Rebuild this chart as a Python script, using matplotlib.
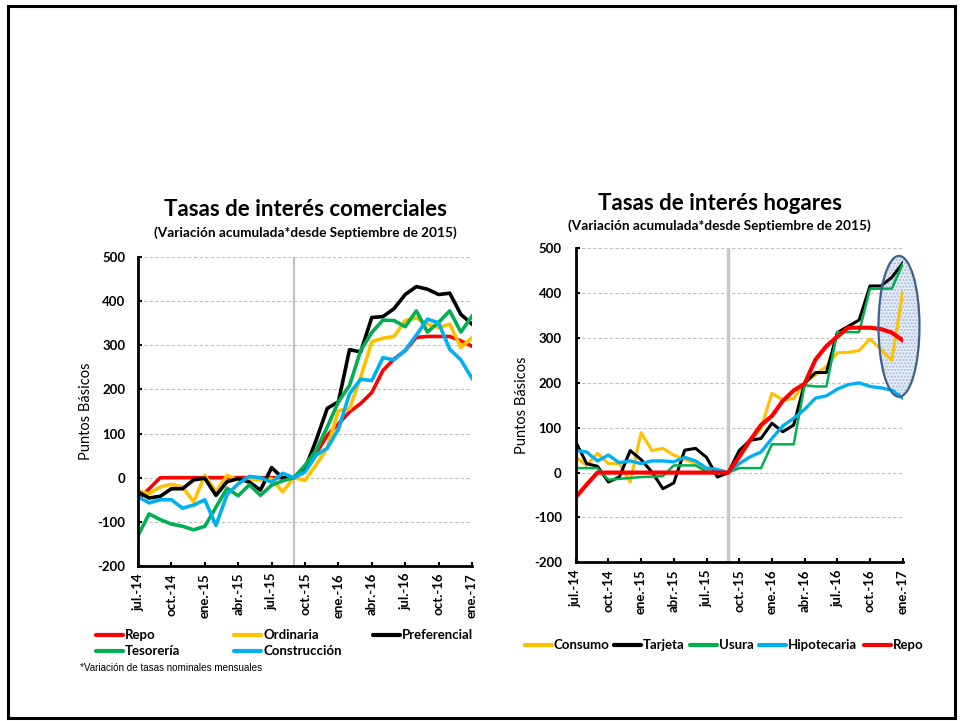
import matplotlib
matplotlib.use('Agg')
import matplotlib.pyplot as plt
from matplotlib.patches import Ellipse, Rectangle
from matplotlib.lines import Line2D

plt.rcParams['font.family'] = ['Lato', 'DejaVu Sans']

# meses jul-14 ... ene-17 (31 observaciones mensuales), etiqueta cada trimestre
meses = ['jul.-14', 'oct.-14', 'ene.-15', 'abr.-15', 'jul.-15', 'oct.-15',
         'ene.-16', 'abr.-16', 'jul.-16', 'oct.-16', 'ene.-17']
x = list(range(31))

# --- comerciales (pb) ---
repo_com = [-50, -25, 0, 0, 0, 0, 0, 0, 0, 0, 0, 0, 0, 0, 0,
            20, 55, 96, 122, 149, 168, 193, 243, 269, 288, 318, 320, 320, 320, 310, 298]
ordinaria = [-30, -36, -21, -15, -21, -55, 5, -32, 5, -5, -4, -5, -2, -32, 0,
             -6, 29, 67, 152, 156, 228, 308, 316, 320, 356, 362, 348, 340, 348, 295, 317]
preferencial = [-32, -46, -42, -25, -25, -5, -1, -40, -9, -2, -10, -28, 23, -1, 0,
                20, 85, 157, 172, 290, 285, 363, 365, 383, 415, 433, 427, 415, 418, 370, 348]
tesoreria = [-131, -82, -95, -105, -110, -118, -110, -67, -24, -41, -16, -40, -17, -7, 0,
             28, 62, 115, 172, 209, 288, 329, 357, 356, 342, 378, 330, 352, 378, 330, 366]
construccion = [-43, -57, -50, -50, -69, -62, -50, -108, -38, -14, 3, 0, -10, 10, 0,
                13, 51, 67, 110, 190, 223, 220, 272, 267, 289, 323, 359, 351, 291, 267, 225]

# --- hogares (pb) ---
consumo = [35, 16, 43, 20, 20, -21, 89, 49, 54, 39, 29, 20, 9, 5, 0,
           35, 70, 98, 177, 162, 165, 200, 218, 237, 267, 268, 272, 298, 275, 250, 402]
tarjeta = [69, 20, 14, -21, -10, 49, 29, 1, -36, -23, 50, 54, 34, -10, 0,
           49, 72, 76, 110, 91, 106, 199, 223, 223, 312, 326, 340, 416, 416, 435, 467]
usura = [10, 10, 10, -16, -14, -12, -10, -9, -8, 16, 16, 16, 2, 0, 0,
         10, 10, 10, 63, 63, 63, 195, 192, 192, 313, 313, 313, 410, 410, 410, 465]
hipotecaria = [49, 46, 26, 39, 22, 26, 20, 26, 26, 24, 34, 26, 10, 7, 0,
               20, 35, 46, 76, 104, 121, 141, 166, 171, 186, 196, 200, 192, 189, 184, 166]
repo_hog = [-55, -27, 0, 0, 0, 0, 0, 0, 0, 0, 0, 0, 0, 0, 0,
            35, 72, 106, 126, 160, 183, 198, 252, 282, 303, 323, 323, 323, 320, 312, 295]

ROJO, AMARILLO, NEGRO, VERDE, AZUL = '#FF0000', '#FFC000', '#000000', '#00B050', '#00B0F0'
W, H = 960, 721
FS = 9.5


def fx(px):
    return px / W


def fy(py):
    return 1 - py / H


def formato(ax, pad_y):
    ax.set_xlim(0, 30)
    ax.set_ylim(-200, 500)
    ax.set_xticks(range(0, 31, 3))
    ax.set_xticklabels(meses, rotation=90, fontweight='bold', fontsize=FS)
    ax.set_yticks(range(-200, 501, 100))
    ax.set_yticklabels([str(v) for v in range(-200, 501, 100)], fontweight='bold', fontsize=FS)
    for s in ['top', 'right']:
        ax.spines[s].set_visible(False)
    for s in ['left', 'bottom']:
        ax.spines[s].set_linewidth(2.0)
    ax.tick_params(axis='both', direction='in', length=3, width=1.5)
    ax.tick_params(axis='y', pad=pad_y)
    ax.tick_params(axis='x', pad=5)
    ax.grid(axis='y', color='#C0C0C0', linestyle=(0, (3, 2)), linewidth=0.8)
    ax.set_axisbelow(True)
    ax.set_ylabel('Puntos Básicos', fontsize=10.5)


def clave(x0, x1, xt, y, color, texto):
    fig.add_artist(Line2D([fx(x0), fx(x1)], [fy(y), fy(y)], color=color, lw=3,
                          solid_capstyle='round', transform=fig.transFigure))
    fig.text(fx(xt), fy(y), texto, ha='left', va='center', fontsize=FS, fontweight='bold')


fig = plt.figure(figsize=(9.6, 7.21), dpi=100)

# marco de la diapositiva
fig.add_artist(Rectangle((fx(8), fy(718)), fx(955) - fx(8), fy(6) - fy(718), fill=False,
                         edgecolor='black', lw=2.2, transform=fig.transFigure))

# ---------------- comerciales ----------------
ax1 = fig.add_axes([fx(138), fy(566), fx(472) - fx(138), fy(257) - fy(566)])
formato(ax1, 9)
ax1.axvline(14, color='#BFBFBF', lw=1.5, zorder=1.5)
ax1.plot(x, repo_com, color=ROJO, lw=2.6)
ax1.plot(x, ordinaria, color=AMARILLO, lw=2.6)
ax1.plot(x, preferencial, color=NEGRO, lw=2.6)
ax1.plot(x, tesoreria, color=VERDE, lw=2.6)
ax1.plot(x, construccion, color=AZUL, lw=2.6)
ax1.yaxis.set_label_coords(-0.135, 0.5)

fig.text(fx(305), fy(210), 'Tasas de interés comerciales', ha='center', va='center',
         fontsize=16, fontweight='bold')
fig.text(fx(305), fy(233), '(Variación acumulada*desde Septiembre de 2015)', ha='center',
         va='center', fontsize=9.8, fontweight='bold')

clave(96, 123, 125, 635, ROJO, 'Repo')
clave(234, 261, 263, 635, AMARILLO, 'Ordinaria')
clave(373, 400, 402, 635, NEGRO, 'Preferencial')
clave(96, 123, 125, 651, VERDE, 'Tesorería')
clave(234, 261, 263, 651, AZUL, 'Construcción')
fig.text(fx(80), fy(668), '*Variación de tasas nominales mensuales', ha='left', va='center',
         fontsize=7.1, family=['Liberation Sans', 'DejaVu Sans'])

# ---------------- hogares ----------------
ax2 = fig.add_axes([fx(575.7), fy(562.3), fx(902.7) - fx(575.7), fy(248.3) - fy(562.3)])
formato(ax2, 10)
ax2.axvline(14, color='#C8C8C8', lw=2.5, zorder=1.5)
ax2.plot(x, consumo, color=AMARILLO, lw=2.2)
ax2.plot(x, tarjeta, color=NEGRO, lw=2.2)
ax2.plot(x, usura, color=VERDE, lw=1.8)
ax2.plot(x, hipotecaria, color=AZUL, lw=2.4)
ax2.plot(x, repo_hog, color=ROJO, lw=3.0)
ax2.yaxis.set_label_coords(-0.143, 0.5)

# óvalo que resalta los últimos meses
ax2.add_patch(Ellipse((29.66, 326), 3.76, 314, facecolor='#E4ECF6', edgecolor='#A9BCD6',
                      hatch='.....', lw=0, zorder=1.8, clip_on=False))
ax2.add_patch(Ellipse((29.66, 326), 3.76, 314, fill=False, edgecolor='#3F5F8F',
                      lw=1.6, zorder=4, clip_on=False))

fig.text(fx(720), fy(204), 'Tasas de interés hogares', ha='center', va='center',
         fontsize=16, fontweight='bold')
fig.text(fx(719), fy(226), '(Variación acumulada*desde Septiembre de 2015)', ha='center',
         va='center', fontsize=9.8, fontweight='bold')

clave(525, 552, 554, 645, AMARILLO, 'Consumo')
clave(614, 641, 643, 645, NEGRO, 'Tarjeta')
clave(690, 717, 719, 645, VERDE, 'Usura')
clave(759, 786, 788, 645, AZUL, 'Hipotecaria')
clave(864, 891, 893, 645, ROJO, 'Repo')

fig.savefig('out.png', dpi=100)
